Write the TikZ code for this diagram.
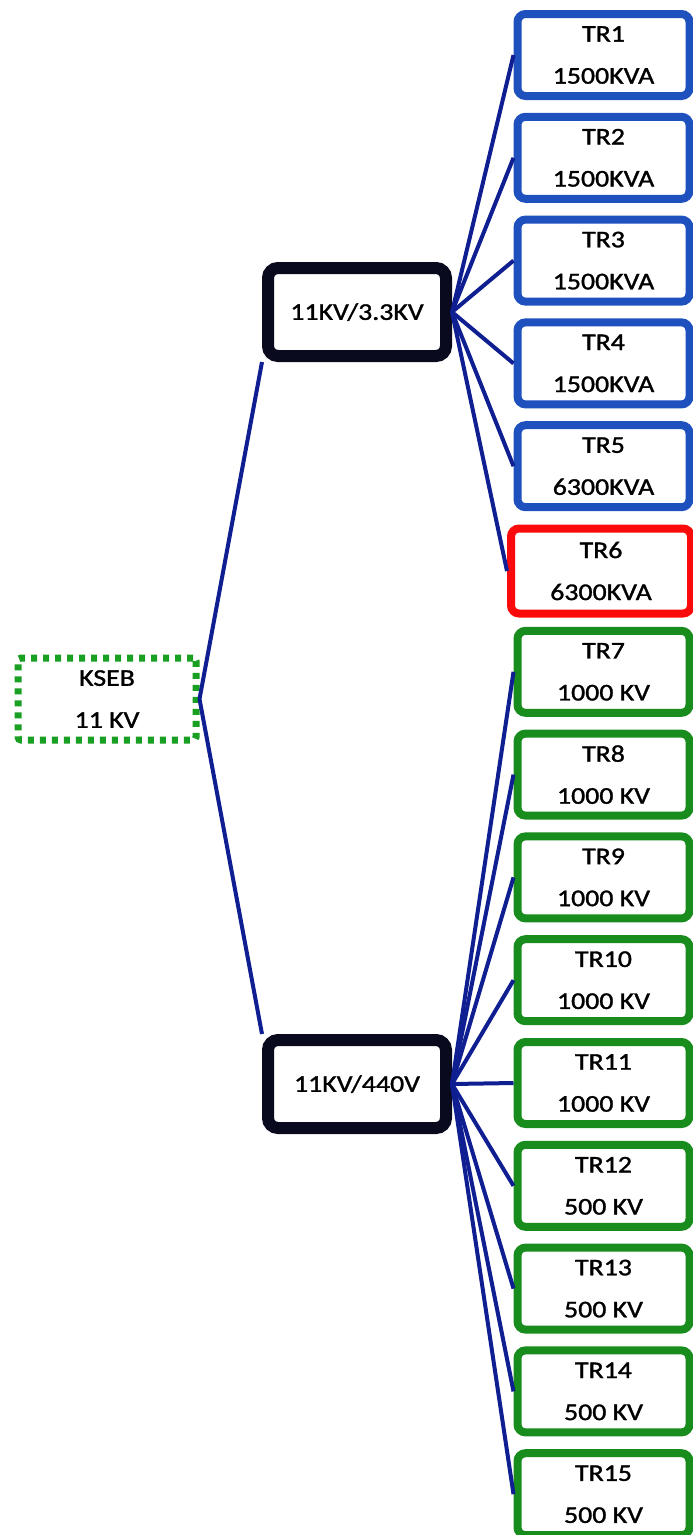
\documentclass[tikz,border=0pt]{standalone}
\usepackage{fontspec}
\newfontfamily\lab[FakeStretch=1.16,FakeBold=1.3]{Carlito}
\definecolor{navy}{RGB}{15,30,145}
\definecolor{trblue}{RGB}{30,80,190}
\definecolor{trred}{RGB}{250,10,10}
\definecolor{trgreen}{RGB}{25,140,30}
\definecolor{dotgreen}{RGB}{25,160,35}
\definecolor{blk}{RGB}{10,10,30}
\begin{document}
\begin{tikzpicture}[x=1pt,y=-1pt,
 lbl/.style={font=\lab\fontsize{24}{42}\selectfont, align=center, text=black, inner sep=0pt},
 trbox/.style={lbl, rectangle, rounded corners=8pt, line width=8pt, minimum width=172pt, minimum height=82pt, fill=white},
 xfbox/.style={lbl, rectangle, rounded corners=10pt, line width=12pt, draw=blk, minimum width=178pt, minimum height=88pt, fill=white},
 srcbox/.style={lbl, rectangle, rounded corners=3pt, line width=7pt, draw=dotgreen, dash pattern=on 6pt off 6pt, minimum width=178pt, minimum height=82pt},
 conn/.style={draw=navy, line width=4pt}
]
\useasboundingbox (0,0) rectangle (693,1535);
\node[srcbox] (kseb) at (107,699) {KSEB\\11 KV};
\node[xfbox] (b1) at (357,312) {11KV/3.3KV};
\node[xfbox] (b2) at (357,1084) {11KV/440V};
\foreach \i/\v in {1/1500KVA,2/1500KVA,3/1500KVA,4/1500KVA,5/6300KVA}
  \node[trbox, draw=trblue] (t\i) at (603.5,{55+(\i-1)*102.8}) {TR\i\\\v};
\node[trbox, draw=trred, minimum width=180pt, minimum height=85pt] (t6) at (601,{55+5*102.8+2}) {TR6\\6300KVA};
\foreach \i/\v in {7/1000 KV,8/1000 KV,9/1000 KV,10/1000 KV,11/1000 KV,12/500 KV,13/500 KV,14/500 KV,15/500 KV}
  \node[trbox, draw=trgreen] (t\i) at (603.5,{55+(\i-1)*102.8}) {TR\i\\\v};
\draw[conn] (kseb.east) -- (b1.south west);
\draw[conn] (kseb.east) -- (b2.north west);
\foreach \i in {1,...,6} \draw[conn] (b1.east) -- (t\i.west);
\foreach \i in {7,...,15} \draw[conn] (b2.east) -- (t\i.west);
\end{tikzpicture}
\end{document}
